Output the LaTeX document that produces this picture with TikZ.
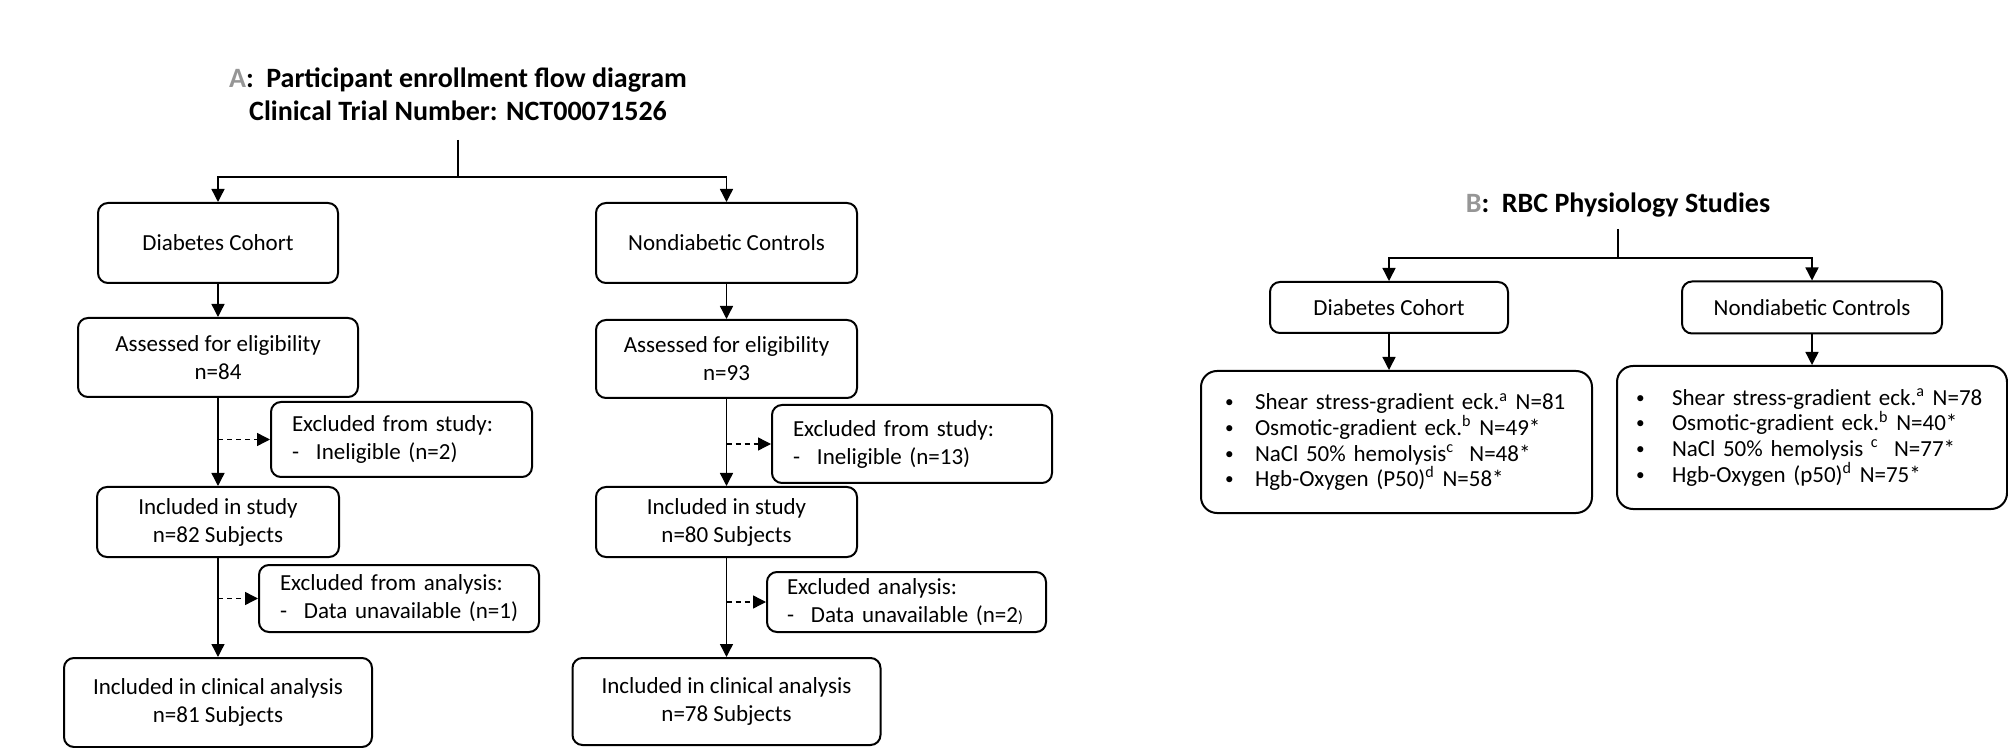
\documentclass[tikz,border=0pt]{standalone}
\usepackage{fontspec}
\setmainfont{Carlito}
\usetikzlibrary{arrows.meta}
\definecolor{lbl}{RGB}{150,150,150}
\newcommand\mybul[1]{\makebox[#1][l]{\raisebox{1pt}{\scalebox{0.75}{•}}}}
\begin{document}
\begin{tikzpicture}[x=0.5pt,y=-0.5pt,
  box/.style={draw, line width=1pt, rounded corners=5pt, align=center, inner sep=0pt,
    font=\fontsize{11.5pt}{14pt}\selectfont},
  lbox/.style={box, align=left},
  bbox/.style={draw, line width=1pt, rounded corners=8pt, align=left, inner ysep=0pt,
    font=\fontsize{11.5pt}{12.8pt}\selectfont},
  conn/.style={line width=0.7pt},
  arr/.style={conn, -{Triangle[length=6.5pt,width=6.5pt]}},
  darr/.style={arr, dash pattern=on 2.5pt off 2pt},
  ttl/.style={font=\bfseries\fontsize{14pt}{16.5pt}\selectfont, align=center, inner sep=0pt}]
\useasboundingbox (0,0) rectangle (2008,748);

% ---------- Panel A ----------
\node[ttl] (titleA) at (458,94) {{\color{lbl}A}:\hspace{0.45em}Participant enrollment flow diagram\\Clinical Trial Number: NCT00071526};

\node[box, minimum width=120pt, minimum height=40pt] (dc1) at (218,243) {Diabetes Cohort};
\node[box, minimum width=140pt, minimum height=39.5pt] (ae1) at (218,357.5) {Assessed for eligibility\\n=84};
\node[lbox, text width=109.5pt, inner xsep=10.5pt, minimum height=37.5pt] (ex1) at (401.5,439.5)
  {\mbox{Excluded from study:}\\\mbox{\makebox[12pt][l]{-}Ineligible (n=2)}};
\node[box, minimum width=121pt, minimum height=35pt] (in1) at (218,522) {Included in study\\n=82 Subjects};
\node[lbox, text width=119pt, inner xsep=10.5pt, minimum height=33.5pt] (ea1) at (399,598.5)
  {\mbox{Excluded from analysis:}\\\mbox{\makebox[12pt][l]{-}Data unavailable (n=1)}};
\node[box, minimum width=154pt, minimum height=44.5pt] (ca1) at (218,702.5) {Included in clinical analysis\\n=81 Subjects};

\node[box, minimum width=130.5pt, minimum height=40pt] (dc2) at (726.5,243) {Nondiabetic Controls};
\node[box, minimum width=130.5pt, minimum height=39pt] (ae2) at (726.5,359) {Assessed for eligibility\\n=93};
\node[lbox, text width=119pt, inner xsep=10.5pt, minimum height=39pt] (ex2) at (912,444)
  {\mbox{Excluded from study:}\\\mbox{\makebox[12pt][l]{-}Ineligible (n=13)}};
\node[box, minimum width=130.5pt, minimum height=35pt] (in2) at (726.5,522) {Included in study\\n=80 Subjects};
\node[lbox, text width=119.5pt, inner xsep=10pt, minimum height=30pt] (ea2) at (906.5,602)
  {\mbox{Excluded analysis:}\\\mbox{\makebox[12pt][l]{-}Data unavailable (n=2{\fontsize{8pt}{8pt}\selectfont)}}};
\node[box, minimum width=154pt, minimum height=43.5pt] (ca2) at (726.5,701.5) {Included in clinical analysis\\n=78 Subjects};

\coordinate (tA) at (458,140);
\coordinate (jA) at (458,177);
\draw[conn] (tA) -- (jA);
\draw[arr] (jA) -| (dc1.north);
\draw[arr] (jA) -| (dc2.north);
\draw[arr] (dc1) -- (ae1);
\draw[arr] (ae1) -- (in1);
\draw[arr] (in1) -- (ca1);
\draw[darr] (ae1.south |- ex1.west) -- (ex1.west);
\draw[darr] (in1.south |- ea1.west) -- (ea1.west);
\draw[arr] (dc2) -- (ae2);
\draw[arr] (ae2) -- (in2);
\draw[arr] (in2) -- (ca2);
\draw[darr] (ae2.south |- ex2.west) -- (ex2.west);
\draw[darr] (in2.south |- ea2.west) -- (ea2.west);

% ---------- Panel B ----------
\node[ttl] (titleB) at (1618,205) {{\color{lbl}B}:\hspace{0.45em}RBC Physiology Studies};
\node[box, minimum width=119pt, minimum height=25.5pt] (dc3) at (1389,307.5) {Diabetes Cohort};
\node[box, minimum width=130pt, minimum height=26pt] (nc3) at (1812,307.5) {Nondiabetic Controls};
\node[bbox, text width=171.5pt, inner xsep=12pt, minimum height=71pt] (bl3) at (1396.5,442)
  {\mybul{15pt}Shear stress-gradient eck.\textsuperscript{a} N=81\\
   \mybul{15pt}Osmotic-gradient eck.\textsuperscript{b} N=49*\\
   \mybul{15pt}NaCl 50\% hemolysis\textsuperscript{c}\ \ N=48*\\
   \mybul{15pt}Hgb-Oxygen (P50)\textsuperscript{d} N=58*};
\node[bbox, text width=176pt, inner xsep=9.5pt, minimum height=71.5pt] (bl4) at (1812,437.5)
  {\mybul{18pt}Shear stress-gradient eck.\textsuperscript{a} N=78\\
   \mybul{18pt}Osmotic-gradient eck.\textsuperscript{b} N=40*\\
   \mybul{18pt}NaCl 50\% hemolysis \textsuperscript{c}\ \ N=77*\\
   \mybul{18pt}Hgb-Oxygen (p50)\textsuperscript{d} N=75*};

\coordinate (tB) at (1618,229);
\coordinate (jB) at (1618,258);
\draw[conn] (tB) -- (jB);
\draw[arr] (jB) -| (dc3.north);
\draw[arr] (jB) -| (nc3.north);
\draw[arr] (dc3.south) -- (dc3.south |- bl3.north);
\draw[arr] (nc3) -- (bl4);
\end{tikzpicture}
\end{document}
